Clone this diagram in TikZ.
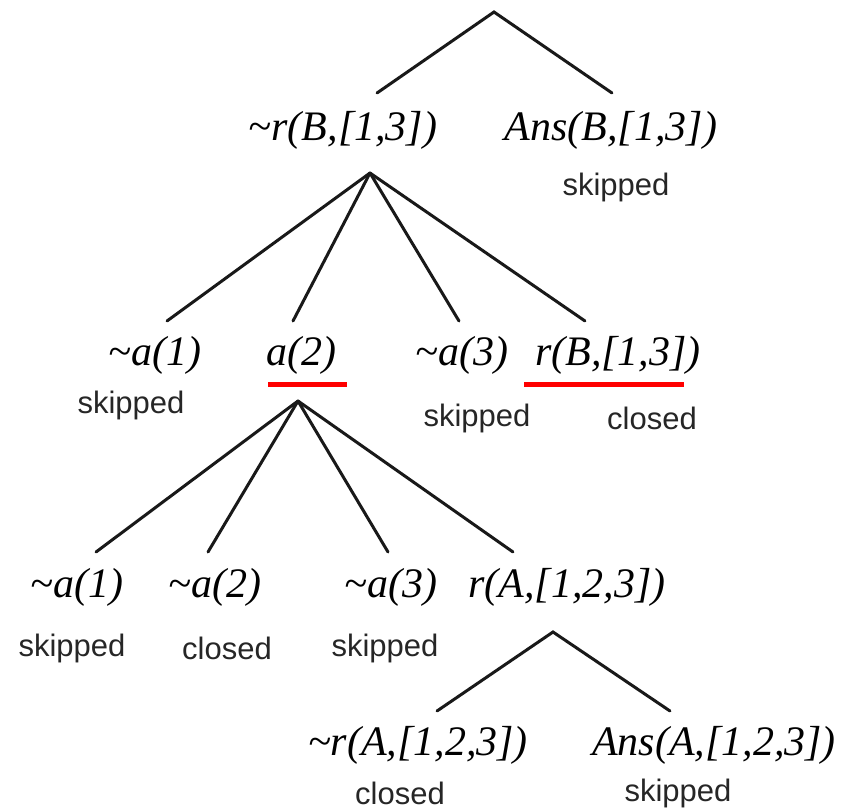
\documentclass[tikz,border=0pt]{standalone}
\usepackage{fontspec}
\setmainfont{Liberation Serif}
\setsansfont{Liberation Sans}
\newcommand{\tl}{\textasciitilde}
\tikzset{
  formula/.style={inner sep=0pt, font=\fontsize{42}{42}\selectfont\itshape, anchor=center},
  status/.style={inner sep=0pt, font=\sffamily\fontsize{31}{31}\selectfont, text=black!85, anchor=center},
  branch/.style={line width=3pt, black!90, line cap=round, line join=miter}
}
\begin{document}
\begin{tikzpicture}[x=1pt,y=-1pt]
\useasboundingbox (0,0) rectangle (862,811);
% apexes and line ends
\coordinate (t0) at (494,12);
\coordinate (t0l) at (377,93);
\coordinate (t0r) at (612,93);
\coordinate (t1) at (370,173);
\coordinate (t1a) at (167,321);
\coordinate (t1b) at (293,321);
\coordinate (t1c) at (459,321);
\coordinate (t1d) at (585,321);
\coordinate (t2) at (298,401);
\coordinate (t2a) at (96,552);
\coordinate (t2b) at (208,552);
\coordinate (t2c) at (388,552);
\coordinate (t2d) at (513,552);
\coordinate (t3) at (553,632);
\coordinate (t3l) at (437,711);
\coordinate (t3r) at (670,711);
% row 1
\node[formula] (nrB) at (343,130) {\tl r(B,[1,3])};
\node[formula] (ansB) at (611,130) {Ans(B,[1,3])};
\node[status] (sAnsB) at (616,187) {skipped};
% row 2
\node[formula] (na1) at (155,355) {\tl a(1)};
\node[formula] (a2) at (301,355) {a(2)};
\node[formula] (na3) at (462,355) {\tl a(3)};
\node[formula] (rB) at (618,355) {r(B,[1,3])};
\node[status] (sna1) at (131,405) {skipped};
\node[status] (sna3) at (477,418) {skipped};
\node[status] (crB) at (652,418) {closed};
\fill[red] (268,382) rectangle (347,387);
\fill[red] (524,382) rectangle (684,387);
% row 3
\node[formula] (mna1) at (77,587) {\tl a(1)};
\node[formula] (mna2) at (215,587) {\tl a(2)};
\node[formula] (mna3) at (391,587) {\tl a(3)};
\node[formula] (rA) at (567,587) {r(A,[1,2,3])};
\node[status] (smna1) at (72,648) {skipped};
\node[status] (cmna2) at (227,648) {closed};
\node[status] (smna3) at (385,648) {skipped};
% row 4
\node[formula] (nrA) at (418,745) {\tl r(A,[1,2,3])};
\node[formula] (ansA) at (714,745) {Ans(A,[1,2,3])};
\node[status] (cnrA) at (400,793) {closed};
\node[status] (sansA) at (678,793) {skipped};
% branches
\draw[branch] (t0l) -- (t0) -- (t0r);
\draw[branch] (t1) -- (t1a);
\draw[branch] (t1) -- (t1b);
\draw[branch] (t1) -- (t1c);
\draw[branch] (t1) -- (t1d);
\draw[branch] (t2) -- (t2a);
\draw[branch] (t2) -- (t2b);
\draw[branch] (t2) -- (t2c);
\draw[branch] (t2) -- (t2d);
\draw[branch] (t3l) -- (t3) -- (t3r);
\end{tikzpicture}
\end{document}
